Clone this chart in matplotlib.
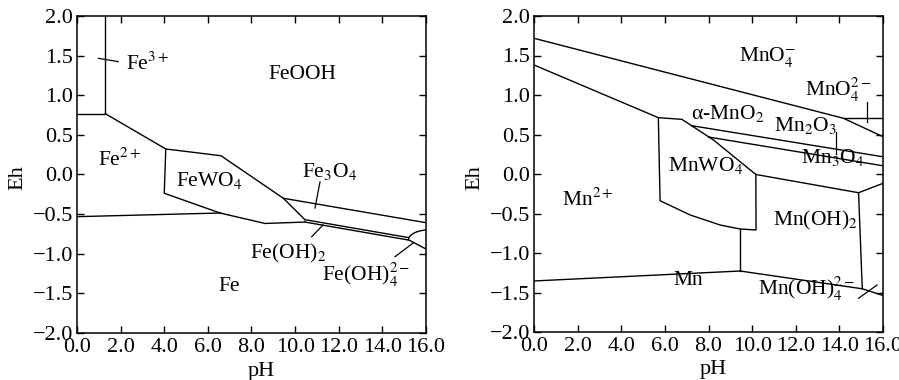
import matplotlib.pyplot as plt
from matplotlib.patches import Arc

# ---------- Données (pH, Eh) ---------- #

# Fe-W-H2O
fe3_bound = [(0.0, 0.767), (1.30, 0.767), (1.30, 2.0)]
fe2_feooh = [(1.30, 0.767), (4.07, 0.322), (6.60, 0.237), (9.46, -0.300), (10.45, -0.570)]
fe3o4_top = [(9.46, -0.300), (16.0, -0.608)]
fewo4_left = [(4.07, 0.322), (4.00, -0.237), (6.56, -0.486)]
fe2_fe = [(0.0, -0.532), (6.56, -0.486)]
fewo4_fe = [(6.56, -0.486), (8.62, -0.618), (10.45, -0.600)]
feoh2_top = [(10.45, -0.570), (15.18, -0.795)]
feoh2_bot = [(10.45, -0.600), (15.18, -0.826)]
fe_feoh4 = [(15.18, -0.822), (16.0, -0.940)]
feoh4_arc = (16.2, -0.822, 2.0, 0.25)  # centre pH, centre Eh, largeur, hauteur

fe_leaders = [
    [(0.98, 1.466), (1.89, 1.424)],
    [(11.14, -0.095), (10.91, -0.423)],
    [(11.28, -0.637), (10.76, -0.785)],
    [(15.41, -0.864), (14.58, -1.037)],
]

fe_labels = [
    ("Fe$^{3+}$", 2.25, 1.40, "left"),
    ("FeOOH", 10.34, 1.256, "center"),
    ("Fe$^{2+}$", 1.93, 0.183, "center"),
    ("FeWO$_4$", 6.05, -0.082, "center"),
    ("Fe$_3$O$_4$", 11.6, 0.032, "center"),
    ("Fe(OH)$_2$", 9.69, -0.994, "center"),
    ("Fe(OH)$_4^{2-}$", 13.27, -1.268, "center"),
    ("Fe", 6.97, -1.416, "center"),
]

# Mn-W-H2O
mno4_top = [(0.0, 1.718), (14.19, 0.705), (16.0, 0.472)]
mno4_2 = [(14.19, 0.705), (16.0, 0.705)]
mno2_low = [(0.0, 1.380), (5.70, 0.713), (6.78, 0.692), (8.23, 0.430), (10.17, -0.006)]
mno2_mn2o3 = [(7.24, 0.611), (16.0, 0.218)]
mn2o3_mn3o4 = [(8.0, 0.468), (16.0, 0.104)]
mn3o4_low = [(10.17, -0.006), (14.88, -0.237), (16.0, -0.118)]
mnoh2_right = [(14.88, -0.237), (15.05, -1.453)]
mn_low = [(9.45, -1.228), (15.05, -1.453), (16.0, -1.538)]
mn2_mn = [(0.0, -1.354), (9.45, -1.228)]
mnwo4_base = [(9.45, -1.228), (9.45, -0.696)]
mnwo4_box = [(5.70, 0.713), (5.78, -0.338), (7.16, -0.519), (8.54, -0.646),
             (9.45, -0.696), (10.18, -0.709), (10.17, -0.006)]

mn_leaders = [
    [(15.27, 0.915), (15.27, 0.662)],
    [(13.86, 0.535), (13.86, 0.247)],
    [(14.88, -1.573), (15.73, -1.405)],
]

mn_labels = [
    ("MnO$_4^{-}$", 10.72, 1.485),
    ("MnO$_4^{2-}$", 13.97, 1.063),
    ("α-MnO$_2$", 8.87, 0.768),
    ("Mn$_2$O$_3$", 12.47, 0.620),
    ("Mn$_3$O$_4$", 13.69, 0.211),
    ("MnWO$_4$", 7.85, 0.105),
    ("Mn$^{2+}$", 2.46, -0.329),
    ("Mn(OH)$_2$", 12.89, -0.594),
    ("Mn", 7.07, -1.351),
    ("Mn(OH)$_4^{2-}$", 12.47, -1.456),
]

x_ticks = [0, 2, 4, 6, 8, 10, 12, 14, 16]
y_ticks = [-2.0, -1.5, -1.0, -0.5, 0.0, 0.5, 1.0, 1.5, 2.0]

# ---------- Style ---------- #

plt.rcParams["font.family"] = ["Liberation Serif", "DejaVu Serif"]
plt.rcParams["mathtext.fontset"] = "stix"

FS = 15.5
FS_TICK = 16
LW = 1.0


def draw(ax, pts, lw=LW):
    xs = [p[0] for p in pts]
    ys = [p[1] for p in pts]
    ax.plot(xs, ys, color="black", linewidth=lw, solid_joinstyle="miter")


def setup_axes(ax, xlab_x):
    ax.set_xlim(0, 16)
    ax.set_ylim(-2.0, 2.0)
    ax.set_xticks(x_ticks)
    ax.set_xticklabels([f"{v:.1f}" for v in x_ticks])
    ax.set_yticks(y_ticks)
    ax.set_yticklabels([f"{v:.1f}".replace("-", "\u2212") for v in y_ticks])
    ax.tick_params(direction="in", top=True, right=True, length=5, width=1.0,
                   labelsize=FS_TICK, pad=3)
    ax.tick_params(axis="x", pad=3.5)
    for s in ax.spines.values():
        s.set_linewidth(1.1)
    ax.set_xlabel("pH", fontsize=FS_TICK, labelpad=0)
    ax.set_ylabel("Eh", fontsize=FS_TICK)
    ax.xaxis.set_label_coords(xlab_x, -0.09)
    ax.yaxis.set_label_coords(-0.142, 0.49)


fig = plt.figure(figsize=(8.99, 3.8), dpi=100)
ax1 = fig.add_axes([77 / 899, 1 - 333 / 380, 349 / 899, 317 / 380])
ax2 = fig.add_axes([534 / 899, 1 - 332 / 380, 349 / 899, 316 / 380])

# ---------- Fe ---------- #
for pts in [fe3_bound, fe2_feooh, fe3o4_top, fewo4_left, fe2_fe, fewo4_fe,
            feoh2_top, feoh2_bot, fe_feoh4]:
    draw(ax1, pts)
cx, cy, w, h = feoh4_arc
arc = Arc((cx, cy), w, h, theta1=90, theta2=180, color="black", linewidth=LW)
ax1.add_patch(arc)
arc.set_clip_on(True)
for pts in fe_leaders:
    draw(ax1, pts, lw=0.9)
for txt, x, y, ha in fe_labels:
    ax1.text(x, y, txt, fontsize=FS, ha=ha, va="center")
setup_axes(ax1, 0.527)

# ---------- Mn ---------- #
for pts in [mno4_top, mno4_2, mno2_low, mno2_mn2o3, mn2o3_mn3o4, mn3o4_low,
            mnoh2_right, mn_low, mn2_mn, mnwo4_base, mnwo4_box]:
    draw(ax2, pts)
for pts in mn_leaders:
    draw(ax2, pts, lw=0.9)
for txt, x, y in mn_labels:
    ax2.text(x, y, txt, fontsize=FS, ha="center", va="center")
setup_axes(ax2, 0.513)

fig.savefig("out.png", dpi=100)
